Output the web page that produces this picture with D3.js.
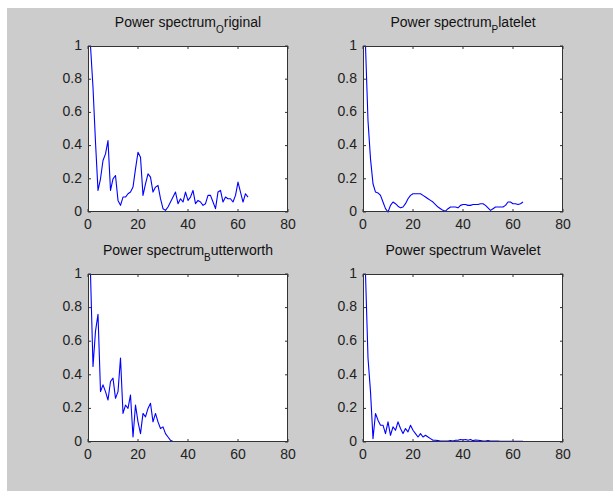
<!DOCTYPE html>
<html>
<head>
<meta charset="utf-8">
<script src="https://cdn.jsdelivr.net/npm/d3@7"></script>
<style>
  body { margin: 0; background: #fff; }
  svg { display: block; }
  .tick-label { font-family: "Liberation Sans", Arial, sans-serif; font-size: 14px; fill: #222; }
  .title { font-family: "Liberation Sans", Arial, sans-serif; font-size: 14px; fill: #111; }
</style>
</head>
<body>
<svg id="fig" width="613" height="491"></svg>
<script>
// x index of every spectrum
const bins = d3.range(1, 65);

const xTicks = [0, 20, 40, 60, 80];
const yTicks = [0, 0.2, 0.4, 0.6, 0.8, 1];

// Power spectrum values
const original = [1.0, 0.75, 0.42, 0.13, 0.20, 0.31, 0.35, 0.43, 0.13, 0.20,
  0.22, 0.07, 0.04, 0.09, 0.09, 0.11, 0.12, 0.15, 0.26, 0.36,
  0.33, 0.10, 0.17, 0.23, 0.21, 0.12, 0.15, 0.16, 0.08, 0.02,
  0.01, 0.03, 0.06, 0.09, 0.12, 0.05, 0.08, 0.06, 0.12, 0.07,
  0.09, 0.13, 0.05, 0.07, 0.06, 0.04, 0.05, 0.10, 0.10, 0.06,
  0.02, 0.12, 0.13, 0.06, 0.09, 0.08, 0.08, 0.06, 0.10, 0.18,
  0.12, 0.06, 0.11, 0.09];

const platelet = [1.0, 0.55, 0.32, 0.17, 0.12, 0.115, 0.10, 0.06, 0.02, 0.0,
  0.04, 0.06, 0.05, 0.035, 0.025, 0.03, 0.05, 0.08, 0.10, 0.11,
  0.11, 0.11, 0.11, 0.10, 0.09, 0.08, 0.07, 0.06, 0.045, 0.03,
  0.02, 0.01, 0.005, 0.02, 0.03, 0.03, 0.03, 0.025, 0.04, 0.045,
  0.045, 0.04, 0.04, 0.045, 0.045, 0.045, 0.05, 0.05, 0.04, 0.025,
  0.01, 0.02, 0.03, 0.03, 0.03, 0.03, 0.04, 0.06, 0.06, 0.05,
  0.05, 0.045, 0.05, 0.06];

const butterworth = [1.0, 0.45, 0.66, 0.76, 0.30, 0.34, 0.30, 0.25, 0.36, 0.38,
  0.26, 0.30, 0.50, 0.17, 0.22, 0.20, 0.28, 0.03, 0.22, 0.12,
  0.05, 0.17, 0.15, 0.20, 0.23, 0.12, 0.17, 0.12, 0.08, 0.09,
  0.05, 0.03, 0.01, 0.003, 0.003, 0.003, 0.003, 0.003, 0.003, 0.003,
  0.003, 0.003, 0.003, 0.003, 0.003, 0.003, 0.003, 0.003, 0.003, 0.003,
  0.003, 0.003, 0.003, 0.003, 0.003, 0.003, 0.003, 0.003, 0.003, 0.003,
  0.003, 0.003, 0.003, 0.003];

const wavelet = [1.0, 0.50, 0.30, 0.02, 0.17, 0.13, 0.10, 0.10, 0.05, 0.12,
  0.04, 0.09, 0.07, 0.12, 0.08, 0.05, 0.08, 0.06, 0.10, 0.07,
  0.05, 0.03, 0.05, 0.03, 0.04, 0.03, 0.02, 0.01, 0.01, 0.008,
  0.006, 0.005, 0.005, 0.005, 0.008, 0.006, 0.01, 0.01, 0.015, 0.012,
  0.015, 0.01, 0.015, 0.008, 0.012, 0.01, 0.008, 0.006, 0.005, 0.008,
  0.005, 0.005, 0.005, 0.005, 0.004, 0.004, 0.004, 0.004, 0.004, 0.004,
  0.004, 0.004, 0.004, 0.004];

const panels = [
  { title: ["Power spectrum", "O", "riginal"], values: original, left: 88, top: 46, height: 166 },
  { title: ["Power spectrum", "P", "latelet"], values: platelet, left: 363, top: 46, height: 166 },
  { title: ["Power spectrum", "B", "utterworth"], values: butterworth, left: 88, top: 274, height: 168 },
  { title: ["Power spectrum Wavelet"], values: wavelet, left: 363, top: 274, height: 168 }
];

const panelW = 200;
const tickLen = 3;

const svg = d3.select("#fig");

// figure background (MATLAB grey)
svg.append("rect")
  .attr("x", 7).attr("y", 8)
  .attr("width", 606).attr("height", 483)
  .attr("fill", "#cccccc");

function drawPanel(p) {
  const g = svg.append("g").attr("transform", `translate(${p.left},${p.top})`);

  const x = d3.scaleLinear().domain([0, 80]).range([0, panelW]);
  const y = d3.scaleLinear().domain([0, 1]).range([p.height, 0]);

  g.append("rect")
    .attr("width", panelW).attr("height", p.height)
    .attr("fill", "#fff");

  // ticks on all four sides, pointing inward
  xTicks.forEach(t => {
    g.append("line").attr("x1", x(t)).attr("x2", x(t))
      .attr("y1", p.height).attr("y2", p.height - tickLen)
      .attr("stroke", "#333");
    g.append("line").attr("x1", x(t)).attr("x2", x(t))
      .attr("y1", 0).attr("y2", tickLen)
      .attr("stroke", "#333");
    g.append("text")
      .attr("class", "tick-label")
      .attr("x", x(t)).attr("y", p.height + 17)
      .attr("text-anchor", "middle")
      .text(t);
  });

  yTicks.forEach(t => {
    g.append("line").attr("x1", 0).attr("x2", tickLen)
      .attr("y1", y(t)).attr("y2", y(t))
      .attr("stroke", "#333");
    g.append("line").attr("x1", panelW).attr("x2", panelW - tickLen)
      .attr("y1", y(t)).attr("y2", y(t))
      .attr("stroke", "#333");
    g.append("text")
      .attr("class", "tick-label")
      .attr("x", -6).attr("y", y(t))
      .attr("text-anchor", "end")
      .attr("dominant-baseline", "middle")
      .text(t);
  });

  const line = d3.line()
    .x((d, i) => x(bins[i]))
    .y(d => y(d));

  g.append("path")
    .datum(p.values)
    .attr("d", line)
    .attr("fill", "none")
    .attr("stroke", "#0000ff")
    .attr("stroke-width", 1.1)
    .attr("stroke-linejoin", "round");

  // axes box
  g.append("rect")
    .attr("x", 0.5).attr("y", 0.5)
    .attr("width", panelW - 1).attr("height", p.height - 1)
    .attr("fill", "none")
    .attr("stroke", "#333");

  // title with MATLAB-style subscript
  const title = g.append("text")
    .attr("class", "title")
    .attr("x", panelW / 2).attr("y", -19)
    .attr("text-anchor", "middle");
  title.append("tspan").text(p.title[0]);
  if (p.title.length > 1) {
    title.append("tspan").attr("dy", 6).attr("font-size", "10px").text(p.title[1]);
    title.append("tspan").attr("dy", -6).text(p.title[2]);
  }
}

panels.forEach(drawPanel);
</script>
</body>
</html>
